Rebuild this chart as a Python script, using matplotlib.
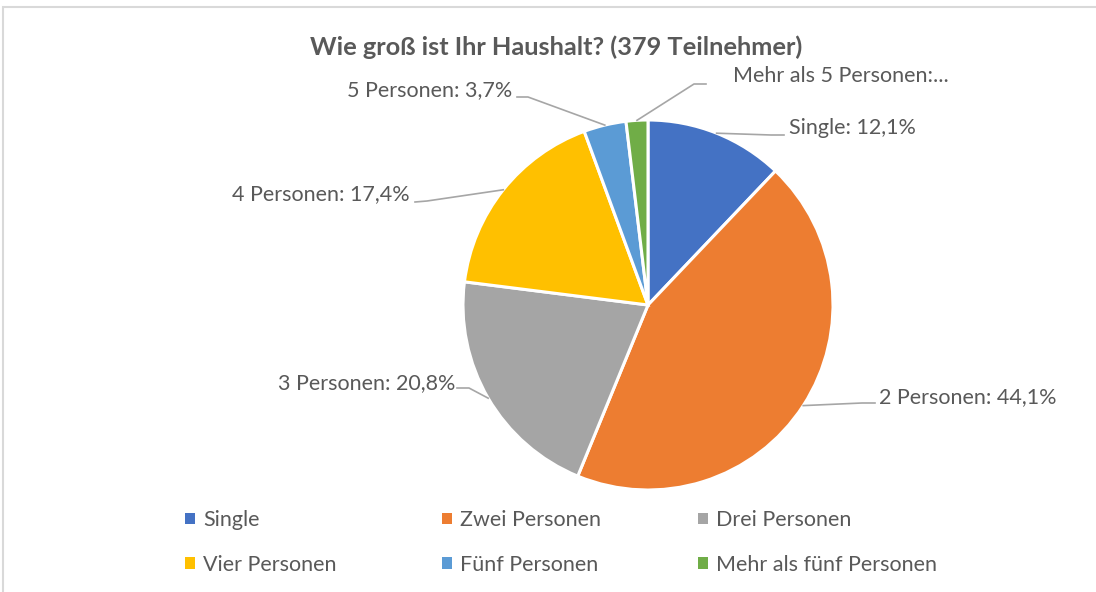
import numpy as np
import matplotlib
matplotlib.use('Agg')
import matplotlib.pyplot as plt
from matplotlib.patches import Rectangle

plt.rcParams['font.family'] = ['Lato', 'DejaVu Sans']

# data
categories = ['Single', 'Zwei Personen', 'Drei Personen', 'Vier Personen',
              'Fünf Personen', 'Mehr als fünf Personen']
labels = ['Single', '2 Personen', '3 Personen', '4 Personen', '5 Personen',
          'Mehr als 5 Personen']
shares = [12.1, 44.1, 20.8, 17.4, 3.7, 1.9]
colors = ['#4472C4', '#ED7D31', '#A5A5A5', '#FFC000', '#5B9BD5', '#70AD47']
title = 'Wie groß ist Ihr Haushalt? (379 Teilnehmer)'

W, H = 1096, 592
textColor = '#595959'
lineColor = '#A6A6A6'
fs = 15.5

# pie geometry in pixels
cx, cy, R = 648, 305, 185

def toData(px, py):
    return (px - cx) / R, (cy - py) / R

fig = plt.figure(figsize=(W / 100, H / 100), dpi=100)
ax = fig.add_axes([(cx - R) / W, (H - cy - R) / H, 2 * R / W, 2 * R / H])
ax.axis('off')

wedges, _ = ax.pie(shares, colors=colors, startangle=90, counterclock=False,
                   radius=1, center=(0, 0), frame=False,
                   wedgeprops=dict(edgecolor='white', linewidth=2.2))
ax.set_xlim(-1, 1)
ax.set_ylim(-1, 1)

# label layout: elbow, line end, text anchor (pixels), alignment
layout = [
    ((771, 135), (784, 135), (789, 128), 'left'),
    ((862, 403), (875, 403), (879, 397), 'left'),
    ((469, 388), (457, 388), (455, 383), 'right'),
    ((427, 201), (415, 202), (410, 194), 'right'),
    ((528, 97), (517, 97), (512, 90), 'right'),
    ((694, 84), (706, 84), (733, 76), 'left'),
]

for w, lab, val, (elb, end, tpos, ha) in zip(wedges, labels, shares, layout):
    ang = np.deg2rad((w.theta1 + w.theta2) / 2)
    ax0, ay0 = np.cos(ang), np.sin(ang)
    ex, ey = toData(*elb)
    nx, ny = toData(*end)
    ax.plot([ax0, ex, nx], [ay0, ey, ny], color=lineColor, lw=1.2,
            clip_on=False, zorder=1)
    if lab.startswith('Mehr'):
        txt = lab + ':...'
    else:
        txt = '%s: %s%%' % (lab, ('%.1f' % val).replace('.', ','))
    tx, ty = toData(*tpos)
    ax.text(tx, ty, txt, ha=ha, va='center', fontsize=fs, color=textColor,
            clip_on=False)

fig.text(556 / W, 1 - 47 / H, title, ha='center', va='center', fontsize=18.3,
         fontweight='bold', color=textColor)

# legend: three columns, two rows, filled row by row
colX = [185, 442, 698]
for j, x in enumerate(colX):
    idx = [j, j + 3]
    leg = fig.legend([wedges[i] for i in idx], [categories[i] for i in idx],
                     ncol=1, loc='upper left', bbox_to_anchor=(x / W, 1 - 510 / H),
                     frameon=False, borderpad=0, borderaxespad=0,
                     handlelength=0.45, handleheight=0.45, handletextpad=0.4,
                     labelspacing=1.14, fontsize=fs)
    for t in leg.get_texts():
        t.set_color(textColor)
    for h in leg.legend_handles:
        h.set_edgecolor('none')

# chart border (top and left visible)
fig.add_artist(Rectangle((3 / W, -0.05), 1.2, 1 - 7 / H + 0.05,
                         transform=fig.transFigure, fill=False,
                         edgecolor='#D9D9D9', lw=1.5))

fig.savefig('out.png', dpi=100)
